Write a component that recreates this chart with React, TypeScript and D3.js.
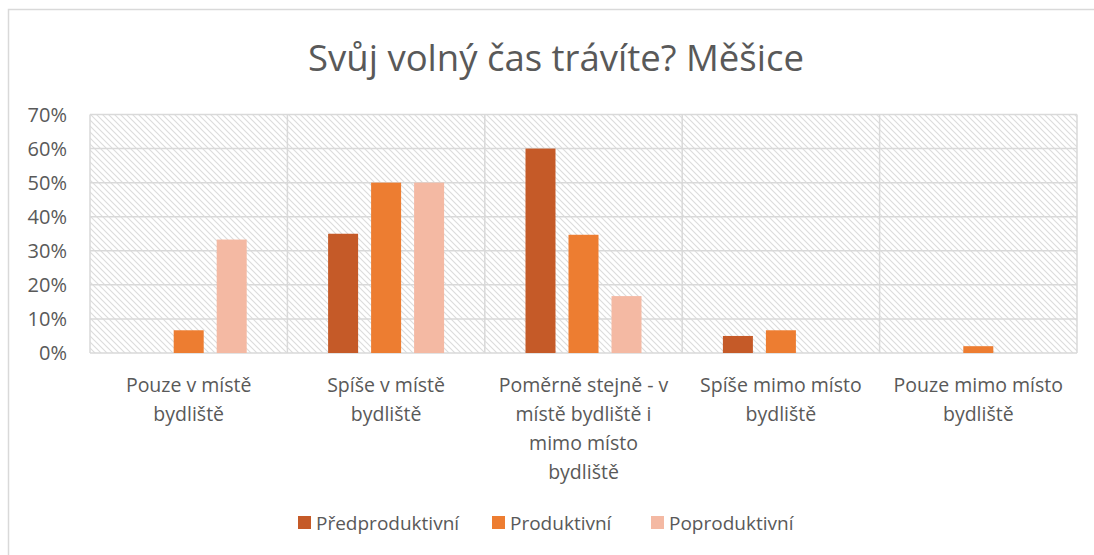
import React from "react";
import * as d3 from "d3";

const categories = [
  ["Pouze v místě", "bydliště"],
  ["Spíše v místě", "bydliště"],
  ["Poměrně stejně - v", "místě bydliště i", "mimo místo", "bydliště"],
  ["Spíše mimo místo", "bydliště"],
  ["Pouze mimo místo", "bydliště"],
];
const seriesNames = ["Předproduktivní", "Produktivní", "Poproduktivní"];
const predproduktivni = [0, 0.35, 0.6, 0.05, 0];
const produktivni = [0.0667, 0.5, 0.347, 0.0667, 0.02];
const poproduktivni = [0.333, 0.5, 0.167, 0, 0];
const yTicks = [0, 0.1, 0.2, 0.3, 0.4, 0.5, 0.6, 0.7];
const colors = ["#C55A28", "#ED7D31", "#F4B9A3"];
const title = "Svůj volný čas trávíte? Měšice";

const FONT = "'Open Sans', 'Noto Sans', sans-serif";
const TEXT = "#595959";
const GRID = "#d9d9d9";

export default function App() {
  const W = 1094, H = 555;
  const left = 90, right = 1077, top = 114.5, bottom = 353;
  const series = [predproduktivni, produktivni, poproduktivni];
  const idx = categories.map((_, i) => String(i));
  const x0 = d3.scaleBand().domain(idx).range([left, right]).paddingInner(0).paddingOuter(0);
  const bw = 30, gap = 13;
  const groupW = bw * 3 + gap * 2;
  const y = d3.scaleLinear().domain([0, 0.7]).range([bottom, top]);

  return (
    <svg width={W} height={H} style={{ position: "absolute", left: 0, top: 0 }}>
      <defs>
        <pattern id="hatch" patternUnits="userSpaceOnUse" width="6" height="6">
          <rect width="6" height="6" fill="#ffffff" />
          <path d="M-1,-1 L7,7 M-1,5 L1,7 M5,-1 L7,1" stroke="#dcdcdc" strokeWidth="1.1" />
        </pattern>
      </defs>
      <rect x={0} y={0} width={W} height={H} fill="#fff" />
      <rect x={8.5} y={9.5} width={1200} height={700} fill="#fff" stroke={GRID} strokeWidth={1.5} />
      <text x={556} y={71} textAnchor="middle" fontFamily={FONT} fontSize={36.5} fill={TEXT}>
        {title}
      </text>
      <rect x={left} y={top} width={right - left} height={bottom - top} fill="url(#hatch)" />
      {yTicks.map((t) => (
        <g key={t}>
          <line x1={left} x2={right} y1={y(t)} y2={y(t)} stroke={GRID} strokeWidth={1.5} />
          <text x={67} y={y(t) + 7} textAnchor="end" fontFamily={FONT} fontSize={20} fill={TEXT}>
            {d3.format(".0%")(t)}
          </text>
        </g>
      ))}
      {idx.map((c) => (
        <line key={"v" + c} x1={x0(c)!} x2={x0(c)!} y1={top} y2={bottom} stroke={GRID} strokeWidth={1.5} />
      ))}
      <line x1={right} x2={right} y1={top} y2={bottom} stroke={GRID} strokeWidth={1.5} />
      {series.map((s, si) =>
        s.map((v, ci) => {
          const gx = x0(String(ci))! + (x0.bandwidth() - groupW) / 2 + si * (bw + gap);
          if (v <= 0) return null;
          return (
            <rect key={si + "-" + ci} x={gx} y={y(v)} width={bw} height={bottom - y(v)} fill={colors[si]} />
          );
        })
      )}
      {categories.map((lines, ci) => (
        <text key={"c" + ci} textAnchor="middle" fontFamily={FONT} fontSize={19.5} fill={TEXT}>
          {lines.map((l, li) => (
            <tspan key={li} x={x0(String(ci))! + x0.bandwidth() / 2} y={392 + li * 29}>
              {l}
            </tspan>
          ))}
        </text>
      ))}
      {seriesNames.map((n, si) => {
        const xs = [298, 492, 651][si];
        return (
          <g key={n}>
            <rect x={xs} y={516} width={13} height={13} fill={colors[si]} />
            <text x={xs + 18} y={530} fontFamily={FONT} fontSize={19} fill={TEXT}>
              {n}
            </text>
          </g>
        );
      })}
    </svg>
  );
}
